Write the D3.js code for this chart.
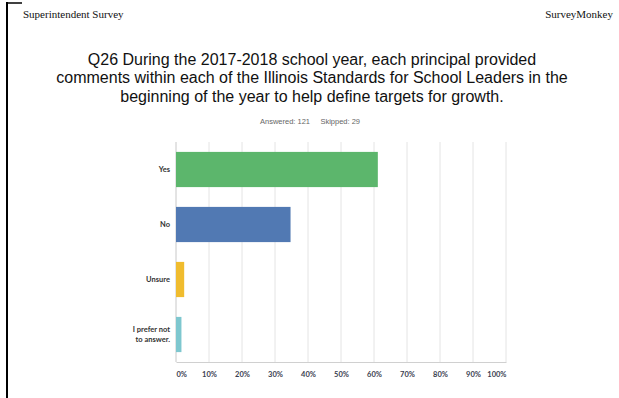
<!DOCTYPE html>
<html>
<head>
<meta charset="utf-8">
<script src="https://cdn.jsdelivr.net/npm/d3@7"></script>
<style>
  html, body { margin: 0; padding: 0; background: #fff; }
  svg { display: block; }
</style>
</head>
<body>
<svg id="chart" width="619" height="398"></svg>
<script>
// Survey answers and their share of respondents (percent)
const categories = ["Yes", "No", "Unsure", "I prefer not to answer."];
const categoryLines = [["Yes"], ["No"], ["Unsure"], ["I prefer not", "to answer."]];
const percents = [61.16, 34.71, 2.48, 1.65];
const colors = ["#5cb66c", "#5179b3", "#f0bc2e", "#7ec7cf"];
const tickValues = [0, 10, 20, 30, 40, 50, 60, 70, 80, 90, 100];
const titleLines = [
  "Q26 During the 2017-2018 school year, each principal provided",
  "comments within each of the Illinois Standards for School Leaders in the",
  "beginning of the year to help define targets for growth."
];
const answered = 121, skipped = 29;

const svg = d3.select("#chart");

// page frame marks
svg.append("line").attr("x1", 7).attr("x2", 7).attr("y1", 2).attr("y2", 398)
  .attr("stroke", "#000").attr("stroke-width", 2);
svg.append("line").attr("x1", 6).attr("x2", 22).attr("y1", 3).attr("y2", 3)
  .attr("stroke", "#000").attr("stroke-width", 1.5);

// page header
svg.append("text").attr("x", 23).attr("y", 18)
  .attr("font-family", "Liberation Serif, Times New Roman, serif").attr("font-size", 11)
  .attr("fill", "#111").text("Superintendent Survey");
svg.append("text").attr("x", 613).attr("y", 18).attr("text-anchor", "end")
  .attr("font-family", "Liberation Serif, Times New Roman, serif").attr("font-size", 11)
  .attr("fill", "#111").text("SurveyMonkey");

// question title
svg.append("g").selectAll("text").data(titleLines).join("text")
  .attr("x", 312).attr("y", (d, i) => 65 + i * 18.4)
  .attr("text-anchor", "middle")
  .attr("font-family", "Liberation Sans, Arial, sans-serif").attr("font-size", 16)
  .attr("fill", "#111").text(d => d);

// response counts
svg.append("text").attr("x", 310).attr("y", 124).attr("text-anchor", "middle")
  .attr("font-family", "Liberation Sans, Arial, sans-serif").attr("font-size", 7.5)
  .attr("fill", "#666").attr("xml:space", "preserve")
  .text(`Answered: ${answered}     Skipped: ${skipped}`);

// scales
const x = d3.scaleLinear().domain([0, 100]).range([176, 506]);
const y = d3.scaleBand().domain(categories).range([142, 362]).paddingInner(0.36).paddingOuter(0.18);

// vertical gridlines
svg.append("g").selectAll("line").data(tickValues).join("line")
  .attr("x1", d => x(d)).attr("x2", d => x(d))
  .attr("y1", 142).attr("y2", 362)
  .attr("stroke", d => d === 0 ? "#c8c8c8" : "#e4e4e4").attr("stroke-width", 1);

// bottom axis
const xAxis = d3.axisBottom(x).tickValues(tickValues).tickSize(0).tickFormat(d => d + "%");
const gx = svg.append("g").attr("transform", "translate(0,362)").call(xAxis);
gx.select(".domain").attr("stroke", "#d0d0d0").attr("stroke-width", 1.2);
gx.selectAll(".tick text")
  .attr("dy", 0).attr("y", 14.5)
  .attr("font-family", "Lato, Open Sans, sans-serif").attr("font-size", 7.5)
  .attr("font-weight", "bold").attr("fill", "#3a4050")
  .attr("text-anchor", d => d === 0 ? "start" : d === 100 ? "end" : "middle");

// bars
svg.append("g").selectAll("rect").data(percents).join("rect")
  .attr("x", x(0))
  .attr("y", (d, i) => y(categories[i]))
  .attr("width", d => x(d) - x(0))
  .attr("height", y.bandwidth())
  .attr("fill", (d, i) => colors[i]);

// category labels
const lab = svg.append("g").selectAll("text").data(categories).join("text")
  .attr("text-anchor", "end")
  .attr("font-family", "Lato, Open Sans, sans-serif").attr("font-size", 7.5)
  .attr("font-weight", "bold").attr("fill", "#333");
lab.each(function(d, i) {
  const lines = categoryLines[i];
  const cy = y(d) + y.bandwidth() / 2;
  const t = d3.select(this);
  lines.forEach((ln, j) => {
    t.append("tspan").attr("x", 170)
      .attr("y", cy + 2.5 + (j - (lines.length - 1) / 2) * 9.5)
      .text(ln);
  });
});
</script>
</body>
</html>
